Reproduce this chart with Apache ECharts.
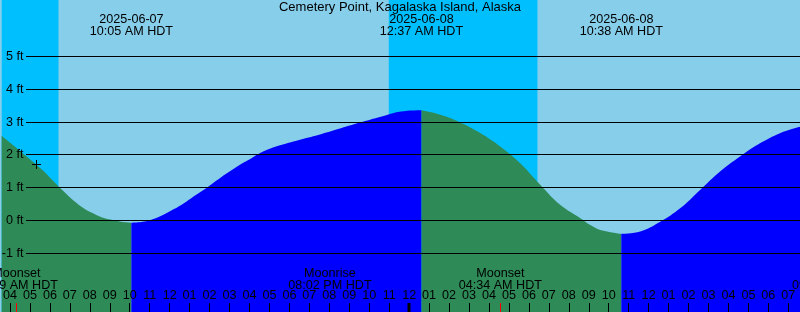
<!DOCTYPE html>
<html><head><meta charset="utf-8">
<script src="https://cdn.jsdelivr.net/npm/echarts@6/dist/echarts.min.js"></script>
<style>html,body{margin:0;padding:0;background:#87CEEB}#c{width:800px;height:312px}</style>
</head><body><div id="c"></div>
<script>
// ---- data (hours counted from 2025-06-07 00:00 HDT) ----
const titleText = 'Cemetery Point, Kagalaska Island, Alaska';
const axisStartHour = 3.585;
const axisEndHour = 43.585;
const tideHours = [3.58, 4.58, 5.58, 6.08, 6.58, 7.08, 7.58, 8.08, 8.58, 9.08, 9.58, 10.08, 10.58, 11.08, 11.58, 12.08, 12.58, 13.08, 13.58, 14.08, 14.58, 15.08, 15.58, 16.08, 16.58, 17.08, 17.58, 18.58, 19.58, 20.58, 21.58, 22.58, 23.58, 24.62, 25.58, 26.58, 27.58, 28.58, 29.58, 30.58, 31.58, 32.58, 33.08, 33.58, 34.63, 35.58, 36.58, 37.58, 38.58, 39.58, 40.58, 41.58, 42.58, 43.6];
const tideFeet = [2.58, 2.08, 1.56, 1.26, 0.95, 0.66, 0.42, 0.24, 0.10, 0.02, -0.04, -0.07, -0.05, 0.02, 0.14, 0.30, 0.47, 0.68, 0.88, 1.10, 1.32, 1.52, 1.72, 1.89, 2.07, 2.20, 2.30, 2.47, 2.63, 2.81, 2.99, 3.16, 3.32, 3.36, 3.22, 2.98, 2.66, 2.25, 1.74, 1.08, 0.47, 0.07, -0.14, -0.29, -0.41, -0.34, -0.04, 0.37, 0.93, 1.49, 1.95, 2.35, 2.66, 2.86];
const extremeIndex = [11, 33, 44];
const extremeHours = [10.083, 24.617, 34.633];
const extremeDates = ['2025-06-07', '2025-06-08', '2025-06-08'];
const extremeTimes = ['10:05 AM HDT', '12:37 AM HDT', '10:38 AM HDT'];
const nightStartHours = [-1.02, 22.98];
const nightEndHours = [6.43, 30.43];
const moonHours = [4.317, 20.033, 28.567, 45.27];
const moonEvents = ['Moonset', 'Moonrise', 'Moonset', 'Moonrise'];
const moonTimes = ['04:19 AM HDT', '08:02 PM HDT', '04:34 AM HDT', '09:16 PM HDT'];
const hourTicks = [4,5,6,7,8,9,10,11,12,13,14,15,16,17,18,19,20,21,22,23,24,25,26,27,28,29,30,31,32,33,34,35,36,37,38,39,40,41,42,43];
const midnightHours = [24];
const feetLevels = [-1, 0, 1, 2, 3, 4, 5];
const nowHour = 5.30;
const nowFeet = 1.71;
const yMin = -2.79, yMax = 6.72;

// ---- styles ----
const FONT = '"Liberation Sans", Arial, sans-serif';
const FS = 12.6;
const fontStr = FS + 'px ' + FONT;
const C_DAY = '#87CEEB', C_NIGHT = '#00BFFF', C_FALL = '#2E8B57', C_RISE = '#0000FF';

// tide segments between extremes
const bounds = [0].concat(extremeIndex, [tideHours.length - 1]);
const tideSeries = [];
for (let s = 0; s < bounds.length - 1; s++) {
  const seg = [];
  for (let i = bounds[s]; i <= bounds[s + 1]; i++) seg.push([tideHours[i], tideFeet[i]]);
  const rising = seg[seg.length - 1][1] > seg[0][1];
  tideSeries.push({
    type: 'line', xAxisIndex: 0, yAxisIndex: 0, data: seg, smooth: 0.4,
    showSymbol: false, symbol: 'none', z: 2, silent: true,
    lineStyle: { width: 0, color: rising ? C_RISE : C_FALL },
    areaStyle: { color: rising ? C_RISE : C_FALL, opacity: 1, origin: 'start' }
  });
}

const hourLabel = h => { const v = ((h % 12) + 12) % 12 || 12; return (v < 10 ? '0' : '') + v; };

const chart = echarts.init(document.getElementById('c'), null, { renderer: 'canvas' });
chart.setOption({
  animation: false,
  backgroundColor: C_DAY,
  title: { text: titleText, left: 'center', top: 1, padding: 0,
    textStyle: { fontFamily: FONT, fontSize: 13, fontWeight: 'normal', color: '#000' } },
  grid: [
    { left: 0, right: 0, top: 0, bottom: 0, show: true, backgroundColor: C_DAY, borderWidth: 0 },
    { left: 26, right: 0, top: 0, bottom: 0, show: false }
  ],
  xAxis: [
    { type: 'value', gridIndex: 0, min: axisStartHour, max: axisEndHour, position: 'bottom', z: 10,
      axisLine: { show: false, onZero: false }, splitLine: { show: false },
      axisTick: { show: true, inside: true, length: 9, customValues: hourTicks, lineStyle: { color: '#000', width: 1 } },
      axisLabel: { show: true, inside: true, margin: 10, customValues: hourTicks, formatter: v => hourLabel(v),
        fontFamily: FONT, fontSize: FS, color: '#000' } },
    { type: 'value', gridIndex: 1, min: 0, max: 1, show: false }
  ],
  yAxis: [
    { type: 'value', gridIndex: 0, min: yMin, max: yMax, show: false },
    { type: 'value', gridIndex: 1, min: yMin, max: yMax, show: false }
  ],
  series: [
    // night bands
    { type: 'custom', xAxisIndex: 0, yAxisIndex: 0, z: 1, silent: true,
      data: nightStartHours.map((s, i) => [s, nightEndHours[i]]),
      renderItem: (params, api) => {
        const cs = params.coordSys;
        const p0 = api.coord([api.value(0), yMax]);
        const p1 = api.coord([api.value(1), yMin]);
        const r = echarts.graphic.clipRectByRect({ x: p0[0], y: p0[1], width: p1[0] - p0[0], height: p1[1] - p0[1] },
          { x: cs.x, y: cs.y, width: cs.width, height: cs.height });
        return r ? { type: 'rect', shape: r, style: { fill: C_NIGHT } } : null;
      } },
    ...tideSeries,
    // ft grid lines and labels
    { type: 'custom', xAxisIndex: 1, yAxisIndex: 1, z: 5, silent: true,
      data: feetLevels.map(v => [0, v]),
      renderItem: (params, api) => {
        const cs = params.coordSys;
        const y = Math.round(api.coord([0, api.value(1)])[1] - 0.5) + 0.5;
        return { type: 'group', children: [
          { type: 'line', shape: { x1: cs.x, y1: y, x2: cs.x + cs.width, y2: y }, style: { stroke: '#000', lineWidth: 1 } },
          { type: 'text', style: { text: api.value(1) + ' ft', x: cs.x - 2.5, y: y, align: 'right', verticalAlign: 'middle', font: fontStr, fill: '#000' } }
        ] };
      } },
    // extreme labels at top
    { type: 'custom', xAxisIndex: 0, yAxisIndex: 0, z: 6, silent: true,
      data: extremeHours.map(h => [h, 0]),
      renderItem: (params, api) => {
        const x = api.coord([api.value(0), 0])[0];
        const i = params.dataIndex;
        return { type: 'group', children: [
          { type: 'text', style: { text: extremeDates[i], x: x, y: 19.5, align: 'center', verticalAlign: 'middle', font: fontStr, fill: '#000' } },
          { type: 'text', style: { text: extremeTimes[i], x: x, y: 31.5, align: 'center', verticalAlign: 'middle', font: fontStr, fill: '#000' } }
        ] };
      } },
    // moon labels and red ticks
    { type: 'custom', xAxisIndex: 0, yAxisIndex: 0, z: 6, silent: true,
      data: moonHours.map(h => [h, 0]),
      renderItem: (params, api) => {
        const cs = params.coordSys;
        const bottom = cs.y + cs.height;
        const x = api.coord([api.value(0), 0])[0];
        const xt = Math.round(x - 0.5) + 0.5;
        const i = params.dataIndex;
        return { type: 'group', children: [
          { type: 'text', style: { text: moonEvents[i], x: x, y: bottom - 38.5, align: 'center', verticalAlign: 'middle', font: fontStr, fill: '#000' } },
          { type: 'text', style: { text: moonTimes[i], x: x, y: bottom - 26.5, align: 'center', verticalAlign: 'middle', font: fontStr, fill: '#000' } },
          { type: 'line', shape: { x1: xt, y1: bottom - 9, x2: xt, y2: bottom }, style: { stroke: '#FF0000', lineWidth: 1 } }
        ] };
      } },
    // midnight thick tick
    { type: 'custom', xAxisIndex: 0, yAxisIndex: 0, z: 6, silent: true,
      data: midnightHours.map(h => [h, 0]),
      renderItem: (params, api) => {
        const cs = params.coordSys;
        const bottom = cs.y + cs.height;
        const x = api.coord([api.value(0), 0])[0];
        return { type: 'rect', shape: { x: Math.round(x) - 1.5, y: bottom - 9, width: 3, height: 9 }, style: { fill: '#000' } };
      } },
    // current-time plus marker
    { type: 'custom', xAxisIndex: 0, yAxisIndex: 0, z: 6, silent: true,
      data: [[nowHour, nowFeet]],
      renderItem: (params, api) => {
        const p = api.coord([api.value(0), api.value(1)]);
        const x = Math.round(p[0]) + 0.5, y = Math.round(p[1]) + 0.5;
        return { type: 'group', children: [
          { type: 'line', shape: { x1: x - 4.5, y1: y, x2: x + 4.5, y2: y }, style: { stroke: '#000', lineWidth: 1 } },
          { type: 'line', shape: { x1: x, y1: y - 4.5, x2: x, y2: y + 4.5 }, style: { stroke: '#000', lineWidth: 1 } }
        ] };
      } }
  ]
});
</script>
</body></html>
